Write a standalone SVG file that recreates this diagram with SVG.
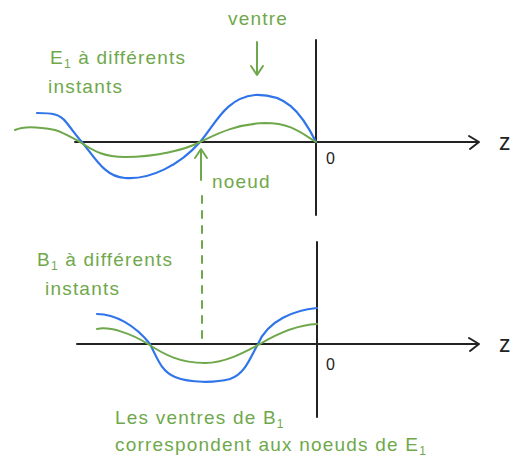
<svg xmlns="http://www.w3.org/2000/svg" width="526" height="468" viewBox="0 0 526 468">
<defs>
<style>
.ax{fill:none;stroke:#222;stroke-width:2;stroke-linecap:round;stroke-linejoin:round}
.blue{fill:none;stroke:#2f74e8;stroke-width:2.2;stroke-linecap:round;stroke-linejoin:round}
.green{fill:none;stroke:#6fa84c;stroke-width:2;stroke-linecap:round;stroke-linejoin:round}
.gl{fill:none;stroke:#6fa84c;stroke-width:2;stroke-linecap:round;stroke-linejoin:round}
.t{font-family:"Liberation Sans",Arial,sans-serif;font-size:19px;letter-spacing:1.2px;fill:#6fa84c}
.k{font-family:"Liberation Sans",Arial,sans-serif;font-size:16px;fill:#222}
.z{font-family:"Liberation Sans",Arial,sans-serif;font-size:23px;fill:#222}
</style>
</defs>
<rect width="526" height="468" fill="#fff"/>
<g id="top-axes">
<path class="ax" d="M75 142 L478 142"/>
<path class="ax" d="M469 136 L479 142 L470 149"/>
<path class="ax" d="M316 40 L316 215"/>
<text class="k" x="326" y="164">0</text>
<text class="z" x="499" y="150">z</text>
</g>
<g id="top-curves">
<path class="blue" d="M37 113 C52 113 60 114 66 122 C74 132 78 138 82 142 C95 158 105 177 125 178 C150 180 180 165 200 142 C215 125 225 98 255 95 C285 94 300 110 316 142"/>
<path class="green" d="M15 130 C25 125 40 127 55 130 C65 133 72 138 80 142 C95 152 105 157 125 157 C155 157 185 150 200 142 C215 135 235 124 265 123 C290 123 300 132 316 142"/>
</g>
<g id="label-E1">
<text class="t" x="50" y="64">E<tspan font-size="12" dy="4">1</tspan><tspan dy="-4"> à différents</tspan></text>
<text class="t" x="48" y="93">instants</text>
</g>
<g id="label-ventre">
<text class="t" x="228" y="25">ventre</text>
</g>
<g id="label-noeud">
<text class="t" x="212" y="188">noeud</text>
</g>
<g id="connectors">
<path class="gl" d="M257 42 L257 74 M251 66 L257 75 L263 66"/>
<path class="gl" d="M201 180 L201 150 M195 158 L201 149 L207 158"/>
<path class="gl" d="M202 196 L202 345" stroke-dasharray="7 8"/>
</g>
<g id="bottom-axes">
<path class="ax" d="M77 344 L478 344"/>
<path class="ax" d="M469 338 L479 344 L470 351"/>
<path class="ax" d="M317 242 L317 417"/>
<text class="k" x="326" y="370">0</text>
<text class="z" x="499" y="352">z</text>
</g>
<g id="bottom-curves">
<path class="blue" d="M97 314 C115 314 135 325 150 344 C158 360 162 372 175 377 C190 383 215 383 230 379 C245 374 250 358 258 344 C268 320 295 310 317 308"/>
<path class="green" d="M97 329 C110 326 132 334 148 344 C165 355 180 363 205 363 C225 363 245 352 260 344 C275 335 295 325 317 324"/>
</g>
<g id="label-B1">
<text class="t" x="37" y="266">B<tspan font-size="12" dy="4">1</tspan><tspan dy="-4"> à différents</tspan></text>
<text class="t" x="45" y="295">instants</text>
</g>
<g id="label-note">
<text class="t" x="115" y="424">Les ventres de B<tspan font-size="12" dy="4">1</tspan></text>
<text class="t" x="115" y="451">correspondent aux noeuds de E<tspan font-size="12" dy="4">1</tspan></text>
</g>
</svg>
